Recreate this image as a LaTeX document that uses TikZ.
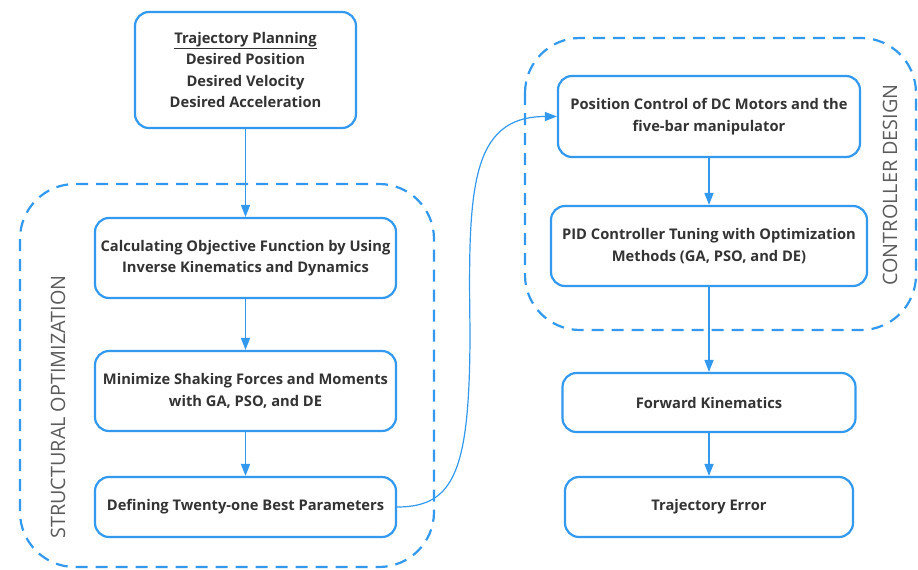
\documentclass[tikz,border=0pt]{standalone}
\usepackage{fontspec}
\setmainfont{Open Sans}
\usetikzlibrary{arrows.meta}
\definecolor{flowblue}{HTML}{3399EE}
\definecolor{textgray}{HTML}{333333}

\begin{document}
\begin{tikzpicture}[x=1pt,y=-1pt,
  box/.style={draw=flowblue, line width=2.2pt, rounded corners=14pt, align=center,
    text=textgray, font=\fontsize{14.7}{21.3}\selectfont\bfseries},
  flow/.style={draw=flowblue, line width=1.6pt, -{Triangle[length=12pt,width=9pt]}},
  group/.style={draw=flowblue, line width=2.2pt, dash pattern=on 12pt off 8pt, rounded corners=55pt},
  grouplabel/.style={rotate=90, text=textgray!80, font=\fontsize{19.8}{20}\selectfont}]
\useasboundingbox (0,0) rectangle (918,570);

% dashed groups
\draw[group] (20,184) rectangle (434,567);
\draw[group] (525,38) rectangle (916,330);
\node[grouplabel] (structlabel) at (58,407) {STRUCTURAL OPTIMIZATION};
\node[grouplabel] (ctrllabel) at (890,185) {CONTROLLER DESIGN};

% left column
\node[box, minimum width=221pt, minimum height=116pt] (plan) at (245.5,70)
  {\underline{Trajectory Planning}\\Desired Position\\Desired Velocity\\Desired Acceleration};
\node[box, minimum width=301pt, minimum height=80pt] (objfun) at (245.5,258)
  {Calculating Objective Function by Using\\Inverse Kinematics and Dynamics};
\node[box, minimum width=301pt, minimum height=80pt] (shaking) at (245.5,391)
  {Minimize Shaking Forces and Moments\\with GA, PSO, and DE};
\node[box, minimum width=301pt, minimum height=60pt] (params) at (245.5,507)
  {Defining Twenty-one Best Parameters};

% right column
\node[box, minimum width=302pt, minimum height=81pt] (posctrl) at (709,116.5)
  {Position Control of DC Motors and the\\five-bar manipulator};
\node[box, minimum width=316pt, minimum height=80pt] (pidtune) at (709,246)
  {PID Controller Tuning with Optimization\\Methods (GA, PSO, and DE)};
\node[box, minimum width=293pt, minimum height=59pt] (fwdkin) at (709,402.5)
  {Forward Kinematics};
\node[box, minimum width=288pt, minimum height=60pt] (trajerr) at (709,507)
  {Trajectory Error};

% arrows
\draw[flow] (plan) -- (objfun);
\draw[flow] (objfun) -- (shaking);
\draw[flow] (shaking) -- (params);
\draw[flow] (posctrl) -- (pidtune);
\draw[flow] (pidtune) -- (fwdkin);
\draw[flow] (fwdkin) -- (trajerr);
\draw[flow, line width=1.2pt] (params.east) .. controls (455,507) and (470,470) .. (470,330)
  .. controls (468,190) and (470,116.5) .. (posctrl.west);
\end{tikzpicture}
\end{document}
